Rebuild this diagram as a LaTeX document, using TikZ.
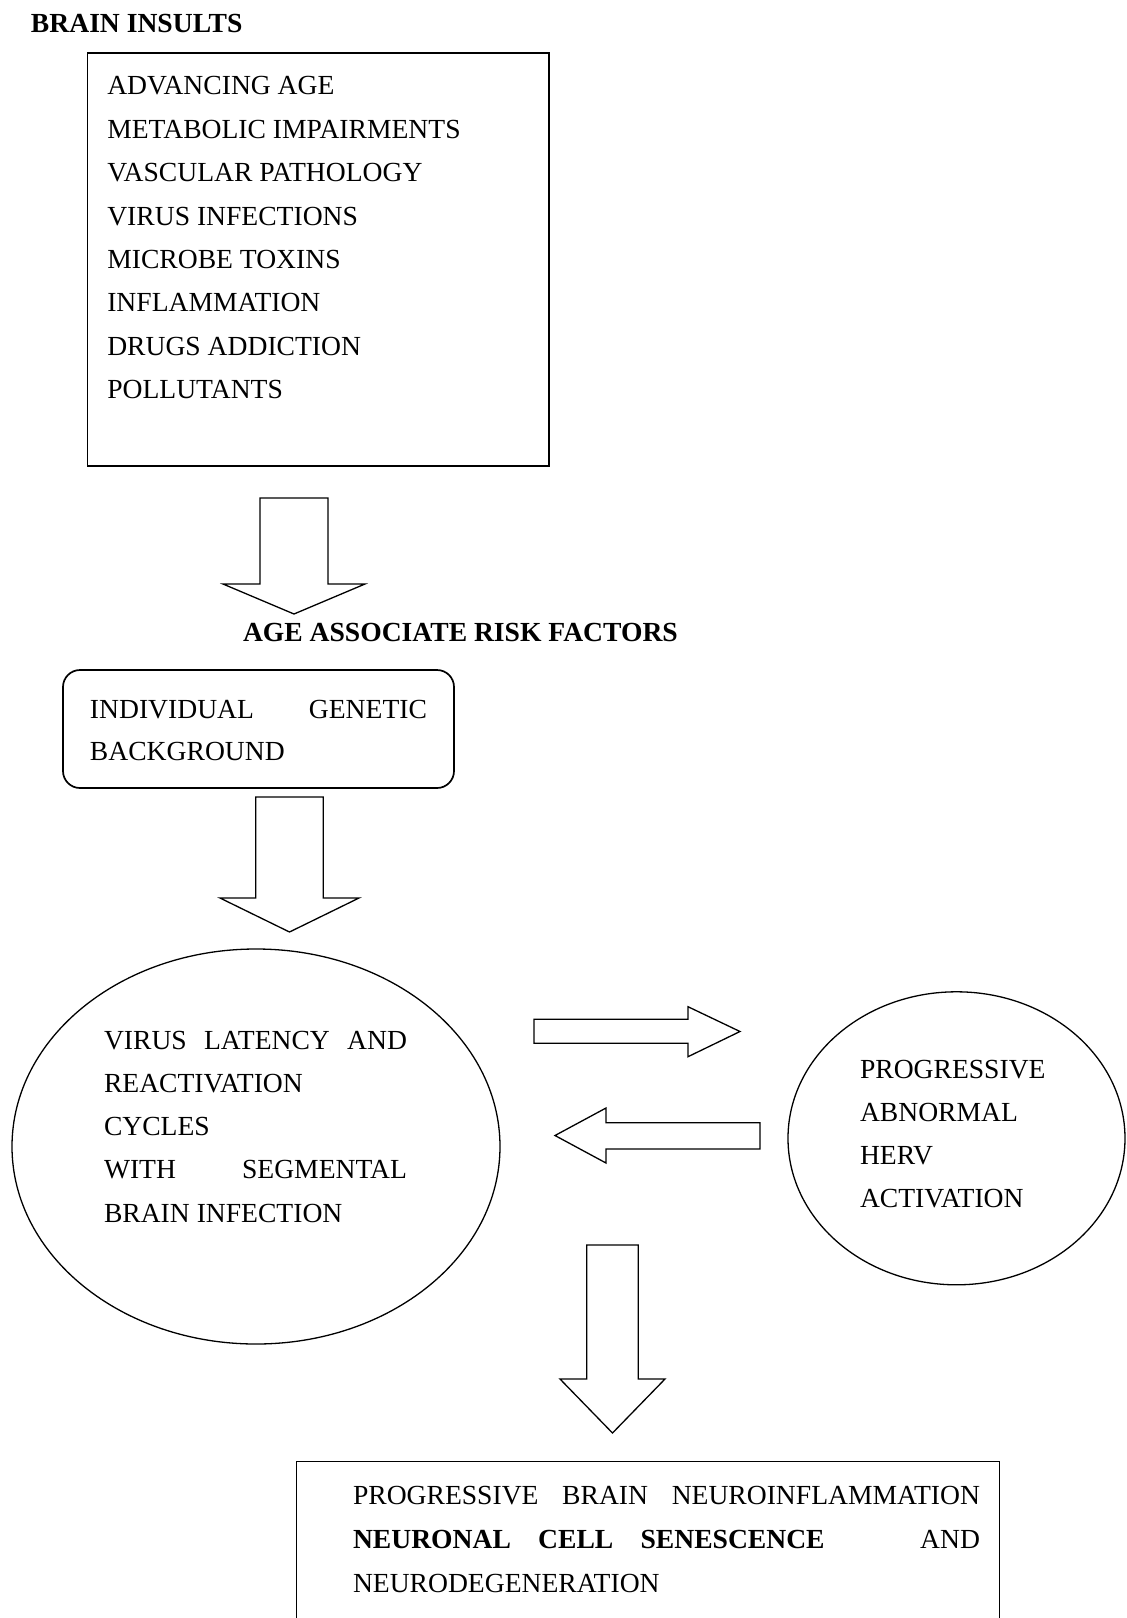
\documentclass[tikz,border=0pt]{standalone}
\usepackage{fontspec}
\setmainfont{Liberation Serif}
\usetikzlibrary{shapes.geometric}
\begin{document}
\begin{tikzpicture}[x=0.5pt,y=-0.5pt,
  txt/.style={anchor=north west, inner sep=0pt, outer sep=0pt, align=left, font=\fontsize{13.8}{21.7}\selectfont},
  txtb/.style={txt, font=\fontsize{13.8}{21.7}\selectfont\bfseries},
  boxline/.style={draw=black, line width=0.85pt, inner sep=0pt},
  thinline/.style={draw=black, line width=0.65pt, inner sep=0pt},
  blockarrow/.style={draw=black, line width=0.65pt, fill=white, line join=miter}]
\useasboundingbox (0,0) rectangle (1126,1618);

% shapes
\node[boxline, rectangle, minimum width=230.7pt, minimum height=206.7pt] (insults) at (318.3,259.4) {};
\node[boxline, rectangle, rounded corners=8.5pt, minimum width=195.5pt, minimum height=59pt] (genetic) at (258.5,729) {};
\node[thinline, ellipse, minimum width=244pt, minimum height=197.5pt] (virus) at (256,1146.5) {};
\node[thinline, ellipse, minimum width=168.5pt, minimum height=146.5pt] (herv) at (956.5,1138.3) {};
\node[inner sep=0pt, minimum width=351pt, minimum height=78pt] (outcome) at (648,1540) {};
\draw[line width=0.85pt] (outcome.south west) -- (outcome.north west) -- (outcome.north east) -- (outcome.south east);

% block arrows
\draw[blockarrow] (260,498) -- (328,498) -- (328,584) -- (365,584) -- (294,614) -- (223,584) -- (260,584) -- cycle;
\draw[blockarrow] (255.7,797) -- (323.3,797) -- (323.3,898) -- (359,898) -- (289.5,932) -- (220,898) -- (255.7,898) -- cycle;
\draw[blockarrow] (534,1019.3) -- (688,1019.3) -- (688,1006.7) -- (740,1031.5) -- (688,1056.7) -- (688,1043.3) -- (534,1043.3) -- cycle;
\draw[blockarrow] (760,1122.7) -- (606,1122.7) -- (606,1108) -- (555,1135.5) -- (606,1163) -- (606,1149) -- (760,1149) -- cycle;
\draw[blockarrow] (586.7,1245) -- (638.3,1245) -- (638.3,1379) -- (665,1379) -- (612.5,1433) -- (560,1379) -- (586.7,1379) -- cycle;

% texts
\node[txtb] (title1) at (31,14) {BRAIN INSULTS};
\node[txt] (list) at (107.3,76.7) {ADVANCING AGE\\METABOLIC IMPAIRMENTS\\VASCULAR PATHOLOGY\\VIRUS INFECTIONS\\MICROBE TOXINS\\INFLAMMATION\\DRUGS ADDICTION\\POLLUTANTS};
\node[txtb] (title2) at (243,623) {AGE ASSOCIATE RISK FACTORS};
\node[txt, font=\fontsize{13.8}{21}\selectfont] (gentxt) at (90,700) {\makebox[168.5pt][s]{INDIVIDUAL GENETIC}\\BACKGROUND};
\node[txt, font=\fontsize{13.8}{21.6}\selectfont] (virustxt) at (104,1031) {\makebox[151.5pt][s]{VIRUS LATENCY AND}\\REACTIVATION\\CYCLES\\\makebox[151.5pt][s]{WITH SEGMENTAL}\\BRAIN INFECTION};
\node[txt, font=\fontsize{13.8}{21.5}\selectfont] (hervtxt) at (860,1060) {PROGRESSIVE\\ABNORMAL\\HERV\\ACTIVATION};
\node[txt, font=\fontsize{13.8}{22}\selectfont] (outtxt) at (353,1486) {\makebox[313.5pt][s]{PROGRESSIVE BRAIN NEUROINFLAMMATION}\\\makebox[313.5pt][l]{\textbf{NEURONAL}\hspace{0pt plus 1fill}\textbf{CELL}\hspace{0pt plus 1fill}\textbf{SENESCENCE}\hspace{0pt plus 3.5fill}AND}\\NEURODEGENERATION};
\end{tikzpicture}
\end{document}
